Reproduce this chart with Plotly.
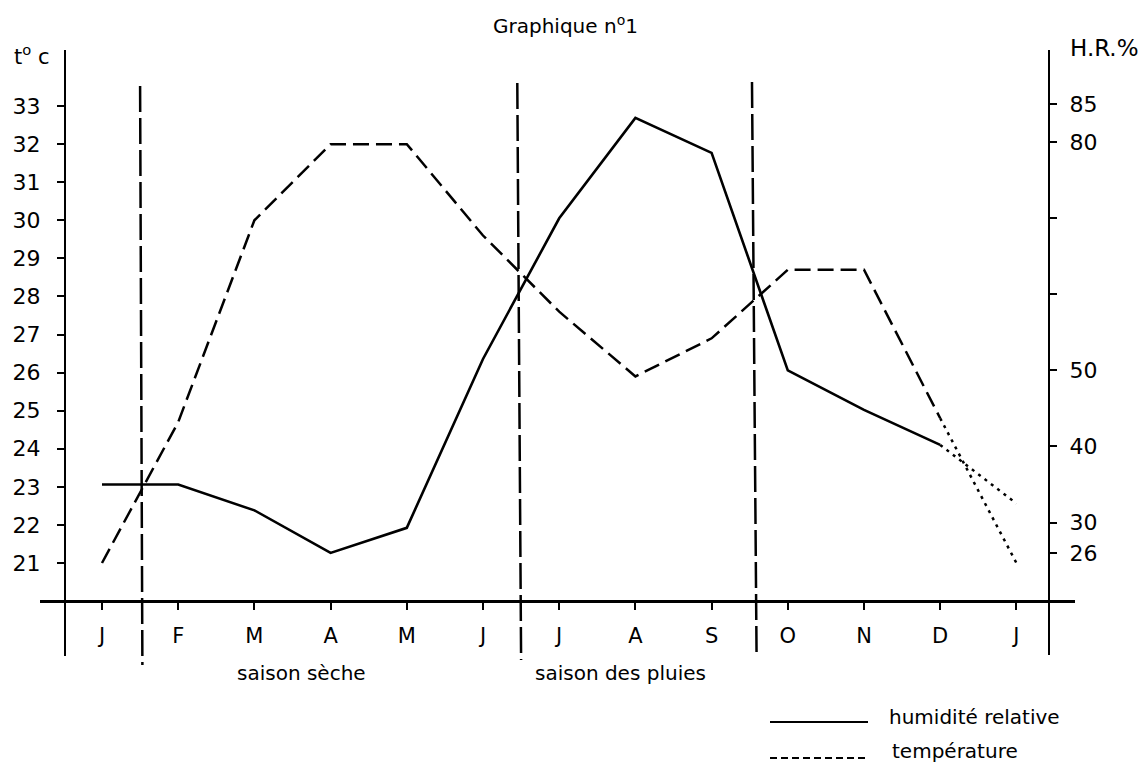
import plotly.graph_objects as go

# ---- data ----
months = ["J", "F", "M", "A", "M", "J", "J", "A", "S", "O", "N", "D", "J"]
temperature = [21.0, 24.7, 30.0, 32.0, 32.0, 29.6, 27.6, 25.9, 26.9, 28.7, 28.7, 24.8, 21.0]
humidity = [35.0, 35.0, 31.6, 26.0, 29.3, 51.5, 70.0, 83.2, 78.6, 50.0, 44.8, 40.2, 32.5]
temp_ticks = list(range(21, 34))
hr_ticks = [26, 30, 40, 50, 60, 70, 80, 85]
hr_ticklabels = ["26", "30", "40", "50", " ", " ", "80", "85"]
season_bounds_top = [0.50, 5.45, 8.53]
season_bounds_bottom = [0.53, 5.50, 8.59]
season_labels = ["saison sèche", "saison des pluies"]
legend_labels = ["humidité relative", "température"]

# ---- geometry (pixels of the 1144x764 page) ----
W, H = 1144, 764
L, R, T, B = 40, 1075, 50, 600          # plot area in pixels


def px(xp):
    return (xp - L) / (R - L)


def py(yp):
    return (B - yp) / (B - T)


FONT = "DejaVu Sans"
INK = "black"
idx = list(range(len(months)))
last = len(months) - 2   # december index: end of the firm lines

fig = go.Figure()

# temperature (dashed) then dotted extrapolation
fig.add_trace(go.Scatter(x=idx[:last + 1], y=temperature[:last + 1], mode="lines",
                         line=dict(color=INK, width=2.5, dash="16px,7px"),
                         yaxis="y", showlegend=False, hoverinfo="skip"))
fig.add_trace(go.Scatter(x=idx[last:], y=temperature[last:], mode="lines",
                         line=dict(color=INK, width=2.5, dash="3px,5px"),
                         yaxis="y", showlegend=False, hoverinfo="skip"))
# humidity (solid) then dotted extrapolation
fig.add_trace(go.Scatter(x=idx[:last + 1], y=humidity[:last + 1], mode="lines",
                         line=dict(color=INK, width=2.6),
                         yaxis="y2", showlegend=False, hoverinfo="skip"))
fig.add_trace(go.Scatter(x=idx[last:], y=humidity[last:], mode="lines",
                         line=dict(color=INK, width=2.5, dash="3px,5px"),
                         yaxis="y2", showlegend=False, hoverinfo="skip"))

x_lo = (L - 102) / 76.2
x_hi = (R - 102) / 76.2
left_pos = px(65)
right_pos = px(1049)

shapes = []
# season boundaries
bound_tops = [py(86), py(83), py(82)]
bound_bots = [py(665), py(660), py(655)]
for xt, xb, yt, yb in zip(season_bounds_top, season_bounds_bottom, bound_tops, bound_bots):
    shapes.append(dict(type="line", xref="x", yref="paper", x0=xt, x1=xb, y0=yt, y1=yb,
                       line=dict(color=INK, width=2.5, dash="26px,6px")))
# axis extensions below the month axis
shapes.append(dict(type="line", xref="paper", yref="paper", x0=left_pos, x1=left_pos,
                   y0=0, y1=py(656), line=dict(color=INK, width=2)))
shapes.append(dict(type="line", xref="paper", yref="paper", x0=right_pos, x1=right_pos,
                   y0=0, y1=py(655), line=dict(color=INK, width=2)))
# legend samples
shapes.append(dict(type="line", xref="paper", yref="paper", x0=px(770), x1=px(868),
                   y0=py(722), y1=py(722), line=dict(color=INK, width=2.2)))
shapes.append(dict(type="line", xref="paper", yref="paper", x0=px(770), x1=px(865),
                   y0=py(758), y1=py(758), line=dict(color=INK, width=1.8, dash="7px,4px")))

ann = []
ann.append(dict(text="Graphique n<sup>o</sup>1", x=px(565), y=py(25), xref="paper", yref="paper",
                showarrow=False, xanchor="center", yanchor="middle", font=dict(size=20)))
ann.append(dict(text="t<sup>o</sup> c", x=px(12), y=py(55), xref="paper", yref="paper",
                showarrow=False, xanchor="left", yanchor="middle", font=dict(size=21)))
ann.append(dict(text="H.R.%", x=px(1068), y=py(48), xref="paper", yref="paper",
                showarrow=False, xanchor="left", yanchor="middle", font=dict(size=23)))
for lab, xc in zip(season_labels, [301, 620]):
    ann.append(dict(text=lab, x=px(xc), y=py(673), xref="paper", yref="paper",
                    showarrow=False, xanchor="center", yanchor="middle", font=dict(size=20)))
for lab, xl, yc in zip(legend_labels, [887, 890], [717, 751]):
    ann.append(dict(text=lab, x=px(xl), y=py(yc), xref="paper", yref="paper",
                    showarrow=False, xanchor="left", yanchor="middle", font=dict(size=20)))

fig.update_layout(
    width=W, height=H,
    margin=dict(l=L, r=W - R, t=T, b=H - B, pad=0),
    paper_bgcolor="white", plot_bgcolor="white",
    font=dict(family=FONT, size=20, color=INK),
    showlegend=False,
    xaxis=dict(range=[x_lo, x_hi], tickmode="array", tickvals=idx, ticktext=months,
               showline=True, linecolor=INK, linewidth=2.5, ticks="outside", ticklen=7,
               tickwidth=2, tickcolor=INK, showgrid=False, zeroline=False,
               tickfont=dict(size=21), ticklabelstandoff=8, fixedrange=True),
    yaxis=dict(range=[20.028, 34.472], anchor="free", position=left_pos,
               tickmode="array", tickvals=temp_ticks,
               showline=True, linecolor=INK, linewidth=2, ticks="outside", ticklen=7,
               tickwidth=2, tickcolor=INK, showgrid=False, zeroline=False,
               tickfont=dict(size=22), ticklabelstandoff=12, fixedrange=True),
    yaxis2=dict(range=[19.81, 92.13], overlaying="y", side="right", anchor="free",
                position=right_pos, tickmode="array", tickvals=hr_ticks, ticktext=hr_ticklabels,
                showline=True, linecolor=INK, linewidth=2, ticks="outside", ticklen=7,
                tickwidth=2, tickcolor=INK, showgrid=False, zeroline=False,
                tickfont=dict(size=22), ticklabelstandoff=8, fixedrange=True),
    shapes=shapes, annotations=ann,
)

fig.write_html("out.html", config={"displayModeBar": False},
               post_script="document.body.style.margin='0';document.body.style.overflow='hidden';")
